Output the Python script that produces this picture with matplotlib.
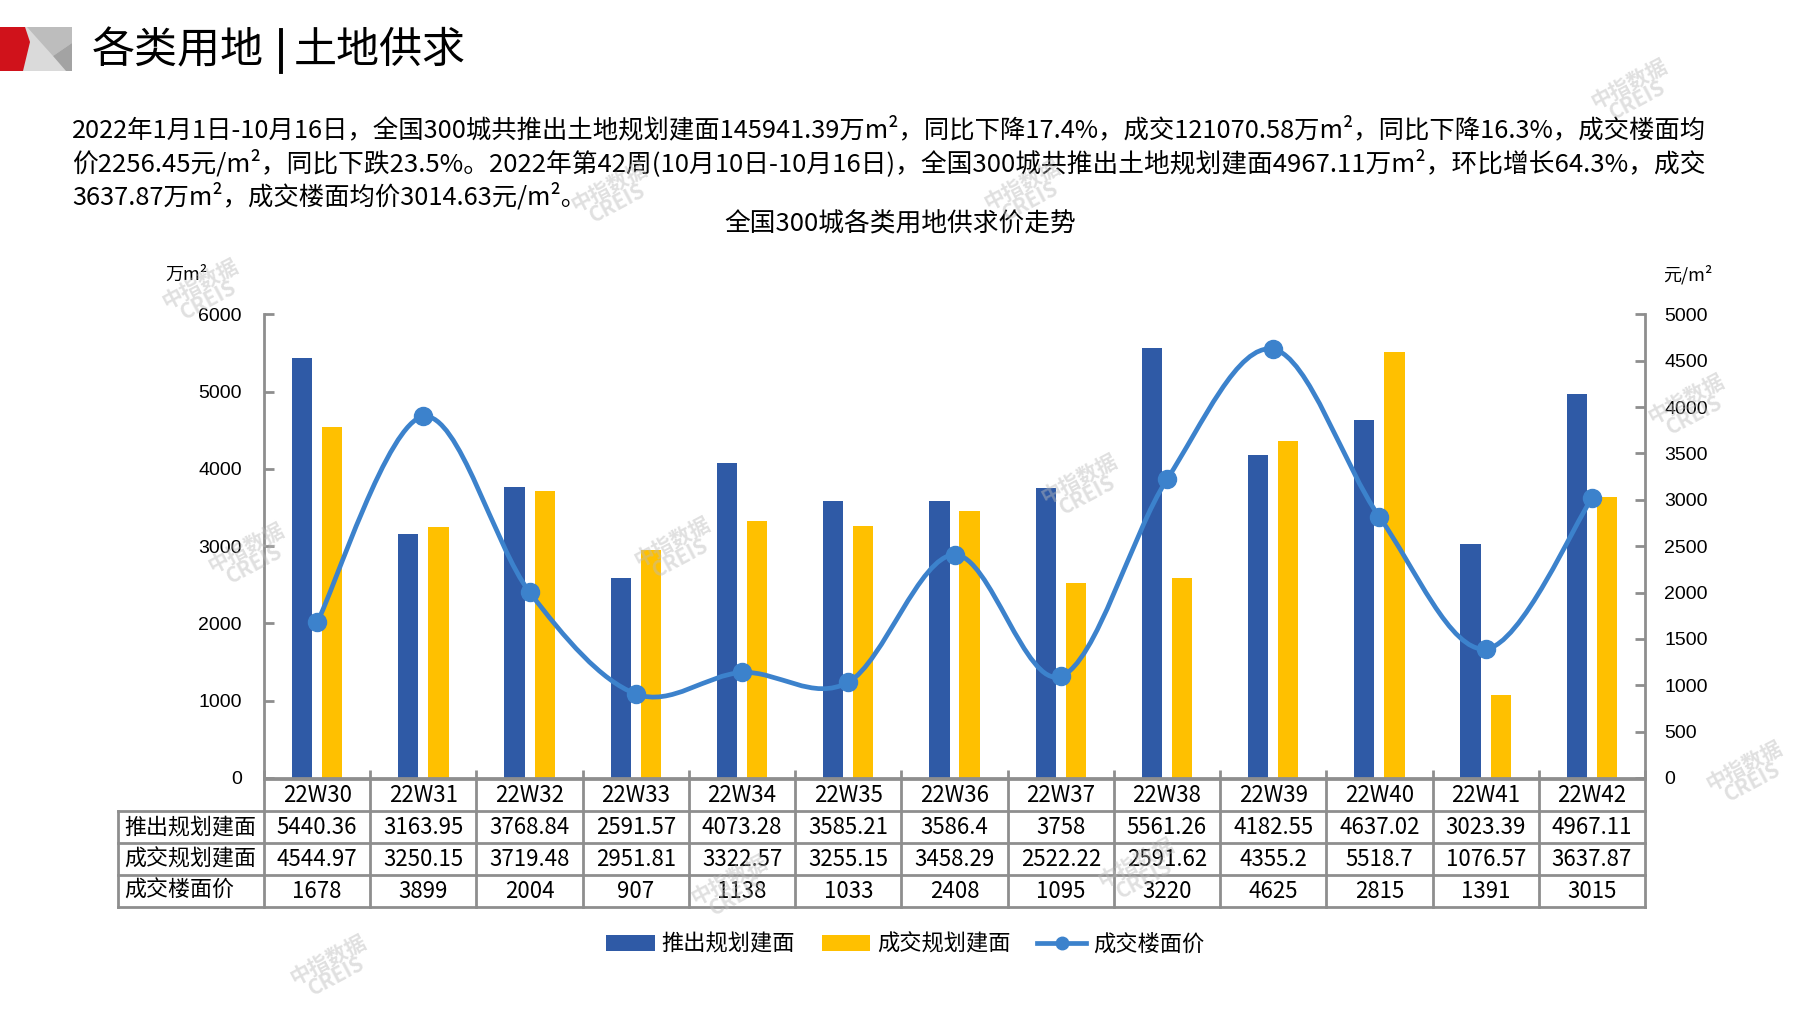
import numpy as np
import matplotlib
matplotlib.use('Agg')
import matplotlib.pyplot as plt
import matplotlib.transforms as mtransforms
from matplotlib.path import Path
from matplotlib.patches import PathPatch, Polygon, Patch
from matplotlib.lines import Line2D

weeks = ['22W30', '22W31', '22W32', '22W33', '22W34', '22W35', '22W36',
         '22W37', '22W38', '22W39', '22W40', '22W41', '22W42']
supply = [5440.36, 3163.95, 3768.84, 2591.57, 4073.28, 3585.21, 3586.4,
          3758, 5561.26, 4182.55, 4637.02, 3023.39, 4967.11]
deal = [4544.97, 3250.15, 3719.48, 2951.81, 3322.57, 3255.15, 3458.29,
        2522.22, 2591.62, 4355.2, 5518.7, 1076.57, 3637.87]
price = [1678, 3899, 2004, 907, 1138, 1033, 2408, 1095, 3220, 4625, 2815,
         1391, 3015]

row_names = ['推出规划建面', '成交规划建面', '成交楼面价']
left_ticks = [0, 1000, 2000, 3000, 4000, 5000, 6000]
right_ticks = [0, 500, 1000, 1500, 2000, 2500, 3000, 3500, 4000, 4500, 5000]

title_a = '各类用地'
title_b = '土地供求'
chart_title = '全国300城各类用地供求价走势'
desc_lines = [
    '2022年1月1日-10月16日，全国300城共推出土地规划建面145941.39万m²，同比下降17.4%，成交121070.58万m²，同比下降16.3%，成交楼面均',
    '价2256.45元/m²，同比下跌23.5%。2022年第42周(10月10日-10月16日)，全国300城共推出土地规划建面4967.11万m²，环比增长64.3%，成交',
    '3637.87万m²，成交楼面均价3014.63元/m²。',
]

CJK = 'Noto Sans CJK SC'
NARROW = ['Liberation Sans Narrow', CJK, 'DejaVu Sans']
plt.rcParams['font.family'] = [CJK, 'DejaVu Sans']

BLUE = '#2F5AA6'
YELLOW = '#FFC000'
LINEC = '#3C82CC'
GRID = '#8E8E8E'

W, H = 1797, 1010
fig = plt.figure(figsize=(W / 100, H / 100), dpi=100)


def fx(x):
    return x / W


def fy(y):
    return 1 - y / H


# logo
def poly(pts, c):
    fig.patches.append(Polygon([(fx(a), fy(b)) for a, b in pts], closed=True,
                               facecolor=c, edgecolor='none',
                               transform=fig.transFigure))


poly([(22, 27), (72, 27), (72, 71), (22, 71)], '#DADADA')
poly([(27, 27), (72, 27), (72, 43), (53, 56)], '#BDBDBD')
poly([(53, 56), (72, 43), (72, 71), (66, 71)], '#A3A3A3')
poly([(0, 27), (25, 27), (30, 42), (23, 71), (0, 71)], '#D0121B')

fig.text(fx(92), fy(51), title_a, fontsize=31, va='center', ha='left')
fig.add_artist(Line2D([fx(281), fx(281)], [fy(30), fy(72)], color='black',
                      lw=2.8, transform=fig.transFigure))
fig.text(fx(294), fy(51), title_b, fontsize=31, va='center', ha='left')

# description text, fitted to the width of the block
renderer = fig.canvas.get_renderer()
fs_first = 16
for i, line in enumerate(desc_lines):
    t = fig.text(fx(72), fy(130 + 33.3 * i), line, fontsize=16, family=NARROW,
                 va='center', ha='left')
    if i < 2:
        w = t.get_window_extent(renderer).width
        t.set_fontsize(16 * 1636 / w)
        if i == 0:
            fs_first = 16 * 1636 / w
    else:
        t.set_fontsize(fs_first)

fig.text(fx(900), fy(225), chart_title, fontsize=18.5, ha='center', va='center')

# main axes
ax = fig.add_axes([fx(264), fy(778), (1645 - 264) / W, (778 - 314.4) / H])
ax2 = ax.twinx()
x = np.arange(len(weeks))
bw = 0.19
off = 0.142
ax.bar(x - off, supply, bw, color=BLUE, zorder=2)
ax.bar(x + off, deal, bw, color=YELLOW, zorder=2)

ax.set_xlim(-0.5, len(weeks) - 0.5)
ax.set_ylim(0, 6000)
ax2.set_ylim(0, 5000)
ax.set_yticks(left_ticks)
ax2.set_yticks(right_ticks)
ax.set_xticks([])
ax.set_xticks(np.arange(len(weeks) + 1) - 0.5, minor=True)
ax.tick_params(axis='x', which='minor', direction='in', length=6,
               color=GRID, width=2)
ax.tick_params(axis='y', direction='in', length=7, color=GRID, width=2,
               labelsize=14, pad=16)
ax2.tick_params(axis='y', direction='in', length=7, color=GRID, width=2,
                labelsize=14, pad=14)
for a in (ax, ax2):
    for lab in a.get_yticklabels():
        lab.set_family(['Liberation Sans', 'DejaVu Sans'])
    for s in a.spines.values():
        s.set_visible(False)
ax.spines['left'].set_visible(True)
ax.spines['bottom'].set_visible(True)
ax2.spines['right'].set_visible(True)
for s in (ax.spines['left'], ax.spines['bottom'], ax2.spines['right']):
    s.set_color(GRID)
    s.set_linewidth(2)

fig.text(fx(165), fy(275), '万m²', fontsize=13, ha='left', va='center')
fig.text(fx(1663), fy(275), '元/m²', fontsize=13, ha='left', va='center')


# smoothed price line (bezier through the points, like the office chart)
def smooth_path(xs, ys):
    n = len(xs)
    verts = [(xs[0], ys[0])]
    codes = [Path.MOVETO]
    for i in range(n - 1):
        xa, ya = (xs[i - 1], ys[i - 1]) if i > 0 else (xs[i], ys[i])
        xb, yb = (xs[i + 2], ys[i + 2]) if i + 2 < n else (xs[i + 1], ys[i + 1])
        c1 = (xs[i] + (xs[i + 1] - xa) / 6, ys[i] + (ys[i + 1] - ya) / 6)
        c2 = (xs[i + 1] - (xb - xs[i]) / 6, ys[i + 1] - (yb - ys[i]) / 6)
        verts += [c1, c2, (xs[i + 1], ys[i + 1])]
        codes += [Path.CURVE4] * 3
    return Path(verts, codes)


ax2.add_patch(PathPatch(smooth_path(list(x), price), facecolor='none',
                        edgecolor=LINEC, lw=3.4, zorder=3, capstyle='round'))
ax2.plot(x, price, 'o', color=LINEC, ms=13, zorder=4)

# data table under the plot
tr = mtransforms.blended_transform_factory(ax.transData, fig.transFigure)
rows_y = [779, 811, 843, 875, 907]
x_left = -0.5 - (264 - 118) / ((1645 - 264) / len(weeks))
x_right = len(weeks) - 0.5
kw = dict(color=GRID, lw=2, transform=tr, clip_on=False)
ax.add_line(Line2D([-0.5, x_right], [fy(rows_y[0])] * 2, **kw))
for yy in rows_y[1:]:
    ax.add_line(Line2D([x_left, x_right], [fy(yy)] * 2, **kw))
for k in range(len(weeks) + 1):
    ax.add_line(Line2D([k - 0.5, k - 0.5], [fy(rows_y[0]), fy(rows_y[-1])], **kw))
ax.add_line(Line2D([x_left, x_left], [fy(rows_y[1]), fy(rows_y[-1])], **kw))

table_rows = [['{:g}'.format(v) for v in supply],
              ['{:g}'.format(v) for v in deal],
              [str(v) for v in price]]
for k, wk in enumerate(weeks):
    ax.text(k, fy((rows_y[0] + rows_y[1]) / 2), wk, transform=tr, fontsize=16,
            family=NARROW, ha='center', va='center')
    for r in range(3):
        ax.text(k, fy((rows_y[r + 1] + rows_y[r + 2]) / 2), table_rows[r][k],
                transform=tr, fontsize=16, family=NARROW, ha='center',
                va='center')
for r, name in enumerate(row_names):
    fig.text(fx(124), fy((rows_y[r + 1] + rows_y[r + 2]) / 2), name,
             fontsize=15.8, ha='left', va='center')

# legend
handles = [Patch(facecolor=BLUE), Patch(facecolor=YELLOW),
           Line2D([], [], color=LINEC, lw=3.4, marker='o', ms=9)]
fig.legend(handles, row_names, loc='center', bbox_to_anchor=(fx(905), fy(944)),
           ncol=3, frameon=False, fontsize=16, handlelength=2.2,
           columnspacing=1.2, handletextpad=0.3)

# watermarks
marks = [(204, 292), (250, 556), (676, 550), (613, 195), (1026, 193),
         (1083, 487), (1633, 92), (1690, 407), (1748, 774), (733, 888),
         (1140, 871), (332, 968)]
for mx, my in marks:
    fig.text(fx(mx), fy(my), '中指数据\nCREIS', fontsize=15, color='#BBBBBB',
             alpha=0.45, rotation=28, ha='center', va='center',
             linespacing=0.9, weight='bold', zorder=10)

fig.savefig('out.png', dpi=100)
